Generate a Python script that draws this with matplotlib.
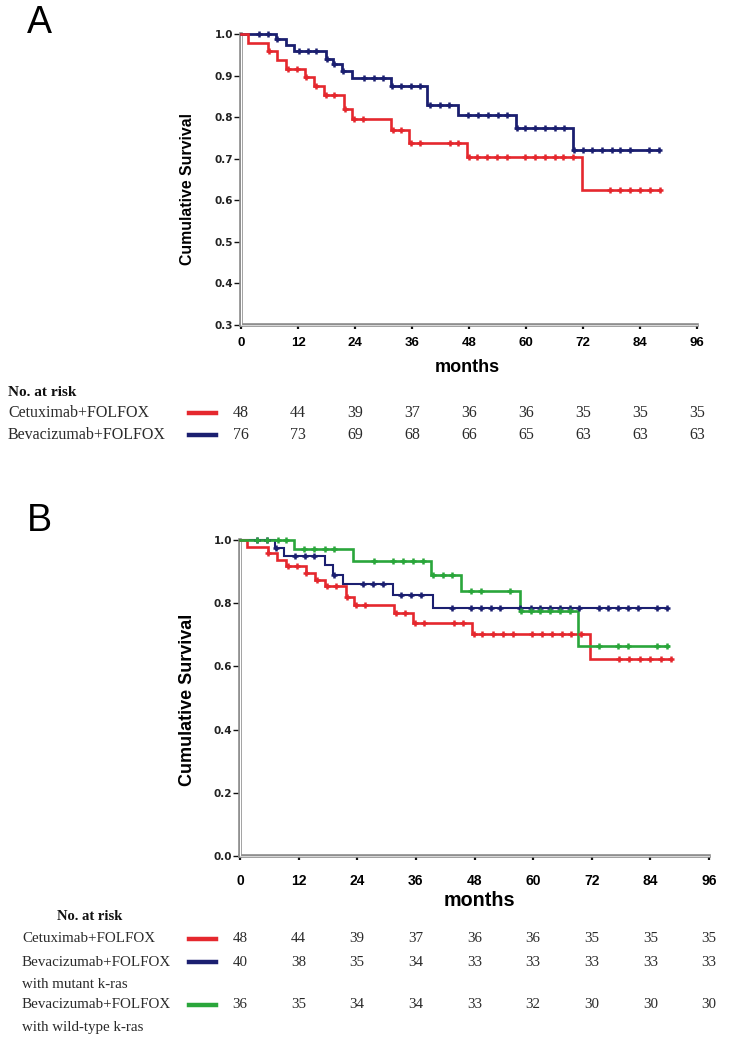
# -*- coding: utf-8 -*-
"""
Kaplan-Meier curves, panel A (two arms) and panel B (three arms),
with the number-at-risk tables under each panel.
"""

import matplotlib
matplotlib.use('Agg')
import matplotlib.pyplot as plt
import matplotlib.transforms as mtransforms
import numpy as np

# ---- data ----------------------------------------------------------------
# panel A, Cetuximab+FOLFOX (same cohort is used in panel B)
cetux_t = [0, 1.4, 5.7, 7.6, 9.5, 13.5, 15.4, 17.5, 21.7, 23.4, 31.6, 35.4,
           47.5, 71.7]
cetux_s = [1.0, 0.979, 0.958, 0.938, 0.917, 0.896, 0.875, 0.854, 0.82,
           0.795, 0.77, 0.738, 0.703, 0.625]
cetux_cens = [5.8, 9.8, 11.7, 13.6, 15.8, 17.9, 19.6, 21.8, 23.8, 25.6, 31.9,
              33.7, 35.8, 37.6, 43.9, 45.6, 47.9, 49.6, 51.7, 53.8, 55.9,
              59.7, 61.8, 63.9, 66.0, 67.7, 69.8, 77.6, 79.7, 81.9, 84.0,
              86.1, 88.2]
cetux_end = 88.2

# panel A, Bevacizumab+FOLFOX
bev_t = [0, 7.4, 9.5, 11.2, 17.9, 19.4, 21.3, 23.4, 31.6, 39.2, 45.6, 57.8,
         69.8]
bev_s = [1.0, 0.987, 0.974, 0.96, 0.94, 0.927, 0.91, 0.894, 0.876, 0.83,
         0.806, 0.774, 0.722]
bev_cens = [3.8, 5.6, 7.6, 12.2, 14.0, 15.8, 18.1, 19.6, 21.5, 25.9, 28.1,
            29.8, 31.8, 33.7, 35.8, 37.6, 39.7, 41.8, 43.7, 47.7, 49.8, 51.9,
            54.0, 56.1, 58.2, 59.7, 61.8, 63.9, 66.0, 67.9, 70.0, 71.9, 73.8,
            75.9, 78.0, 79.7, 81.9, 85.9, 88.0]
bev_end = 88.0

# panel B, Bevacizumab+FOLFOX with mutant k-ras
mut_t = [0, 7.2, 9.0, 17.3, 19.1, 21.0, 31.3, 39.5]
mut_s = [1.0, 0.975, 0.95, 0.92, 0.89, 0.86, 0.826, 0.784]
mut_cens = [3.5, 5.6, 7.4, 11.2, 13.4, 15.2, 19.3, 25.1, 27.2, 29.2, 33.0,
            35.0, 37.1, 43.3, 47.3, 49.4, 51.4, 53.3, 57.4, 59.5, 61.5, 63.4,
            65.4, 67.5, 69.3, 73.5, 75.3, 77.4, 79.4, 81.5, 85.4, 87.4]
mut_end = 87.6

# panel B, Bevacizumab+FOLFOX with wild-type k-ras
wt_t = [0, 11.0, 23.2, 39.1, 45.2, 57.3, 69.2]
wt_s = [1.0, 0.972, 0.934, 0.89, 0.838, 0.776, 0.663]
wt_cens = [3.5, 5.6, 7.7, 9.4, 13.1, 15.2, 17.3, 19.3, 27.4, 31.3, 33.3, 35.4,
           37.4, 39.5, 41.6, 43.3, 47.3, 49.4, 55.3, 57.6, 59.5, 61.5, 63.4,
           65.4, 67.5, 73.5, 77.4, 79.4, 85.4, 87.4]
wt_end = 87.6

# number at risk
risk_months = [0, 12, 24, 36, 48, 60, 72, 84, 96]
risk_a_cetux = [48, 44, 39, 37, 36, 36, 35, 35, 35]
risk_a_bev = [76, 73, 69, 68, 66, 65, 63, 63, 63]
risk_b_cetux = [48, 44, 39, 37, 36, 36, 35, 35, 35]
risk_b_mut = [40, 38, 35, 34, 33, 33, 33, 33, 33]
risk_b_wt = [36, 35, 34, 34, 33, 32, 30, 30, 30]

RED = '#e5282e'
BLUE = '#1b1f70'
GREEN = '#2aa63b'
TXT = '#2a2a2a'

W, H = 733, 1044


def fx(x):
    return x / W


def fy(y):
    return 1 - y / H


def km(ax, t, s, cens, end, color, lw):
    """step curve plus censor marks"""
    t = np.asarray(t)
    s = np.asarray(s)
    ax.step(np.r_[t, end], np.r_[s, s[-1]], where='post', color=color,
            lw=lw, zorder=4, clip_on=False, solid_joinstyle='miter')
    c = np.asarray(cens)
    cy = s[np.searchsorted(t, c, side='right') - 1]
    ax.plot(c, cy, ls='none', marker='+', ms=4.2, mew=1.8, color=color,
            zorder=5, clip_on=False)


def style_axes(ax, ylo, yticks, xlabsize, xpad):
    ax.set_xlim(0, 96)
    ax.set_ylim(ylo, 1.0)
    for sp in ('top', 'right'):
        ax.spines[sp].set_visible(False)
    for sp in ('left', 'bottom'):
        ax.spines[sp].set_color('#8a8a8a')
        ax.spines[sp].set_linewidth(2.6)
    # inner white line gives the double-line look of the original axes
    ax.plot([0, 0], [0, 1], transform=ax.transAxes, color='white', lw=0.8,
            zorder=3, clip_on=False)
    ax.plot([0, 1], [0, 0], transform=ax.transAxes, color='#d8d8d8', lw=0.8,
            zorder=3, clip_on=False)
    ax.set_xticks(risk_months)
    ax.set_xticklabels([str(m) for m in risk_months], fontsize=xlabsize,
                       fontweight='bold', family='Liberation Sans')
    ax.set_yticks(yticks)
    ax.set_yticklabels(['%.1f' % v for v in yticks], fontsize=7.5,
                       fontweight='bold', family='DejaVu Sans', color='#222222')
    ax.tick_params(axis='x', length=3, width=1.6, color='#111111', pad=xpad)
    ax.tick_params(axis='y', length=5, width=1.0, color='#111111', pad=0.5)


def risk_row(fig, ax, y, label, values, color, size):
    fig.text(fx(22 if size < 11 else 8), fy(y), label, fontsize=size,
             family='Liberation Serif', color=TXT, va='center', ha='left')
    if color is not None:
        fig.add_artist(plt.Line2D([fx(189), fx(216)], [fy(y), fy(y)],
                                  color=color, lw=3.2,
                                  transform=fig.transFigure))
    trans = mtransforms.blended_transform_factory(ax.transData,
                                                  fig.transFigure)
    if values is not None:
        for m, v in zip(risk_months, values):
            ax.text(m, fy(y), str(v), transform=trans, fontsize=size,
                    family='Liberation Serif', color=TXT, ha='center',
                    va='center', clip_on=False)


fig = plt.figure(figsize=(W / 100, H / 100), dpi=100)

# ---- panel A ---------------------------------------------------------------
axA = fig.add_axes([fx(241), fy(325), (697 - 241) / W, (325 - 34) / H])
style_axes(axA, 0.3, [0.3, 0.4, 0.5, 0.6, 0.7, 0.8, 0.9, 1.0], 9.5, 5.5)
km(axA, bev_t, bev_s, bev_cens, bev_end, BLUE, 2.0)
km(axA, cetux_t, cetux_s, cetux_cens, cetux_end, RED, 1.9)

fig.text(fx(39), fy(23), 'A', fontsize=27, family='Liberation Sans',
         ha='center', va='center')
fig.text(fx(188), fy(189), 'Cumulative Survival', rotation=90, fontsize=11.4,
         fontweight='bold', family='Liberation Sans', ha='center',
         va='center')
fig.text(fx(467), fy(367), 'months', fontsize=13, fontweight='bold',
         family='Liberation Sans', ha='center', va='center')

fig.text(fx(8), fy(393), 'No. at risk', fontsize=11, fontweight='bold',
         family='Liberation Serif', color='#111111', va='center')
risk_row(fig, axA, 413, 'Cetuximab+FOLFOX', risk_a_cetux, RED, 11.5)
risk_row(fig, axA, 435, 'Bevacizumab+FOLFOX', risk_a_bev, BLUE, 11.5)

# ---- panel B ---------------------------------------------------------------
axB = fig.add_axes([fx(240), fy(856), (709 - 240) / W, (856 - 540) / H])
style_axes(axB, 0.0, [0.0, 0.2, 0.4, 0.6, 0.8, 1.0], 10, 10)
km(axB, mut_t, mut_s, mut_cens, mut_end, BLUE, 1.5)
km(axB, cetux_t, cetux_s, cetux_cens, cetux_end, RED, 1.9)
km(axB, wt_t, wt_s, wt_cens, wt_end, GREEN, 1.9)

fig.text(fx(39), fy(521), 'B', fontsize=27, family='Liberation Sans',
         ha='center', va='center')
fig.text(fx(188), fy(700), 'Cumulative Survival', rotation=90, fontsize=13,
         fontweight='bold', family='Liberation Sans', ha='center',
         va='center')
fig.text(fx(479), fy(901), 'months', fontsize=14.2, fontweight='bold',
         family='Liberation Sans', ha='center', va='center')

fig.text(fx(90), fy(917), 'No. at risk', fontsize=10.5, fontweight='bold',
         family='Liberation Serif', color='#111111', va='center',
         ha='center')
risk_row(fig, axB, 939, 'Cetuximab+FOLFOX', risk_b_cetux, RED, 10.8)
risk_row(fig, axB, 962, 'Bevacizumab+FOLFOX', risk_b_mut, BLUE, 10.8)
risk_row(fig, axB, 984, 'with mutant k-ras', None, None, 10.8)
risk_row(fig, axB, 1005, 'Bevacizumab+FOLFOX', risk_b_wt, GREEN, 10.8)
risk_row(fig, axB, 1027, 'with wild-type k-ras', None, None, 10.8)

fig.savefig('out.png', dpi=100)
